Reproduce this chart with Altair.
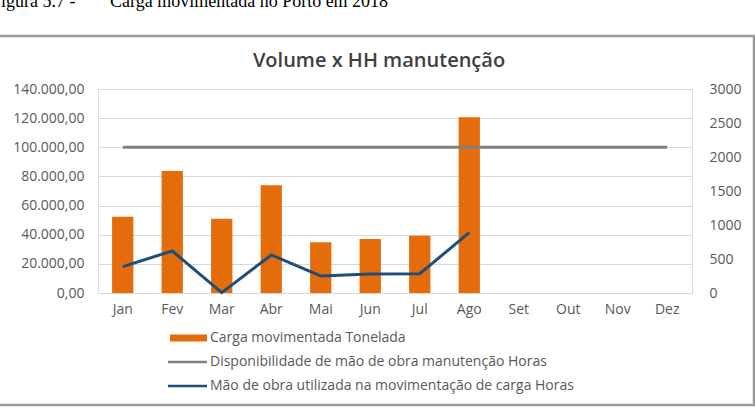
import altair as alt
import pandas as pd

months = ["Jan", "Fev", "Mar", "Abr", "Mai", "Jun", "Jul", "Ago", "Set", "Out", "Nov", "Dez"]
carga = [52400, 83700, 51000, 73900, 34800, 37000, 39300, 120600, None, None, None, None]
disponibilidade = [2142] * 12
mao_obra = [387, 618, 5, 559, 250, 279, 284, 887, None, None, None, None]

series_names = [
    "Carga movimentada Tonelada",
    "Disponibilidade de mão de obra manutenção Horas",
    "Mão de obra utilizada na movimentação de carga Horas",
]
colors = ["#E46C0A", "#7F7F7F", "#1F4E79"]
title_text = "Volume x HH manutenção"
caption_a = "Figura 5.7 -"
caption_b = "Carga movimentada no Porto em 2018"

df = pd.DataFrame({"mes": months, "carga": carga, "disp": disponibilidade, "mao": mao_obra})

FONT = "Open Sans"
LBL = "#595959"

xenc = alt.X("mes:N", sort=months, title=None,
             scale=alt.Scale(paddingInner=0.57, paddingOuter=0.285),
             axis=alt.Axis(domain=False, ticks=False, labelAngle=0, labelPadding=9,
                           labelFont=FONT, labelFontSize=14, labelColor=LBL))

bars = alt.Chart(df).mark_bar(color=colors[0]).encode(
    x=xenc,
    y=alt.Y("carga:Q", title=None,
            scale=alt.Scale(domain=[0, 140000], nice=False),
            axis=alt.Axis(values=list(range(0, 140001, 20000)), format=",.2f",
                          domain=False, ticks=False, grid=True, gridColor="#D9D9D9",
                          gridWidth=1.2, labelPadding=14, labelFont=FONT,
                          labelFontSize=14, labelColor=LBL)),
)

rscale = alt.Scale(domain=[0, 3000], nice=False)
disp_line = alt.Chart(df).mark_line(color=colors[1], strokeWidth=3).encode(
    x=alt.X("mes:N", sort=months, bandPosition=0.5),
    y=alt.Y("disp:Q", title=None, scale=rscale,
            axis=alt.Axis(orient="right", values=list(range(0, 3001, 500)), format="d",
                          domain=False, ticks=False, grid=False, labelPadding=17,
                          labelFont=FONT, labelFontSize=14, labelColor=LBL)),
)
mao_line = alt.Chart(df).transform_filter("isValid(datum.mao)").mark_line(
    color=colors[2], strokeWidth=3).encode(
    x=alt.X("mes:N", sort=months, bandPosition=0.5),
    y=alt.Y("mao:Q", scale=rscale, axis=None),
)

# legend (manual)
leg_df = pd.DataFrame({"name": series_names})
leg_rows = []
ys = [249, 273, 297]
for i, (nm, col) in enumerate(zip(series_names, colors)):
    d = leg_df.iloc[[i]]
    if i == 0:
        sym = alt.Chart(d).mark_rect(color=col).encode(
            x=alt.value(72), x2=alt.value(109), y=alt.value(ys[i] - 3.5), y2=alt.value(ys[i] + 3.5))
    else:
        sym = alt.Chart(d).mark_rule(color=col, strokeWidth=2.5).encode(
            x=alt.value(70), x2=alt.value(109), y=alt.value(ys[i]))
    txt = alt.Chart(d).mark_text(align="left", baseline="middle", font=FONT, fontSize=14,
                                 color=LBL).encode(
        x=alt.value(112), y=alt.value(ys[i]), text="name:N")
    leg_rows += [sym, txt]

title = alt.Chart(pd.DataFrame({"t": [title_text]})).mark_text(
    align="center", baseline="middle", font=FONT, fontSize=20, fontWeight=600,
    color="#404040").encode(x=alt.value(281), y=alt.value(-28), text="t:N")

cap_df = pd.DataFrame({"t": [caption_a, caption_b], "x": [-107, 12]})
cap1 = alt.Chart(cap_df.iloc[[0]]).mark_text(
    align="left", baseline="alphabetic", font="Liberation Serif", fontSize=18,
    color="#000000").encode(x=alt.value(-107), y=alt.value(-82), text="t:N")
cap2 = alt.Chart(cap_df.iloc[[1]]).mark_text(
    align="left", baseline="alphabetic", font="Liberation Serif", fontSize=18,
    color="#000000").encode(x=alt.value(12), y=alt.value(-82), text="t:N")

border = alt.Chart(pd.DataFrame({"a": [0]})).mark_rect(
    fill=None, stroke="#9A9A9A", strokeWidth=2.5).encode(
    x=alt.value(-102), x2=alt.value(656), y=alt.value(-53), y2=alt.value(316))

chart = alt.layer(bars, disp_line, mao_line, *leg_rows, title, cap1, cap2, border).resolve_scale(
    y="independent"
).properties(
    width=594, height=204,
    autosize=alt.AutoSizeParams(type="none"),
    padding={"left": 98, "top": 89, "right": 63, "bottom": 116},
    background="white",
).configure_view(stroke=None).configure(
    locale={"number": {"decimal": ",", "thousands": ".", "grouping": [3], "currency": ["R$", ""]}}
)

chart.save("out.html", embed_options={"renderer": "svg", "actions": False})
